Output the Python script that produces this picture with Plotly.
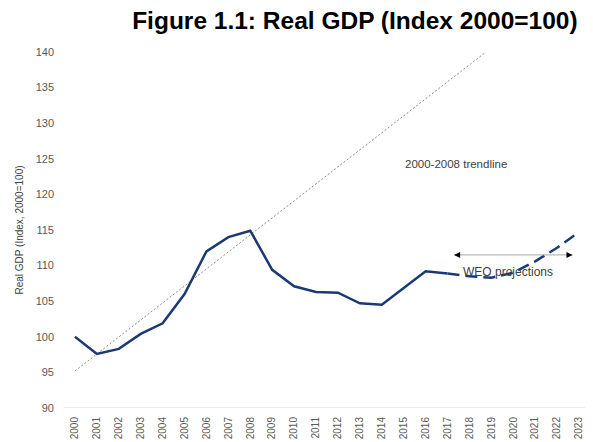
import plotly.graph_objects as go

years_actual = list(range(2000, 2018))
gdp_actual = [100.0, 97.6, 98.3, 100.4, 101.9, 106.0, 112.0, 114.0, 114.9, 109.4,
              107.1, 106.3, 106.2, 104.7, 104.5, 106.8, 109.2, 108.9]
years_proj = list(range(2017, 2024))
gdp_proj = [108.9, 108.5, 108.3, 109.0, 110.6, 112.5, 114.7]
trend_years = [2000, 2018.75]
trend_values = [95.2, 140.0]
tick_years = list(range(2000, 2024))
tick_labels = [str(y) for y in tick_years]
arrow_span = [2017.3, 2022.7]
arrow_level = 111.5

navy = "#1b3a73"
font_family = "Arial, Liberation Sans, sans-serif"

fig = go.Figure()
fig.add_trace(go.Scatter(x=trend_years, y=trend_values, mode="lines",
                         line=dict(color="#8c8c8c", width=1, dash="2px,2px"), showlegend=False))
fig.add_trace(go.Scatter(x=years_actual, y=gdp_actual, mode="lines",
                         line=dict(color=navy, width=2.5), showlegend=False))
fig.add_trace(go.Scatter(x=years_proj, y=gdp_proj, mode="lines",
                         line=dict(color=navy, width=2.5, dash="12px,6px"), showlegend=False))

# double-headed arrow: gray line with black heads
fig.add_shape(type="line", xref="x", yref="y", x0=arrow_span[0], x1=arrow_span[1],
              y0=arrow_level, y1=arrow_level, line=dict(color="#a6a6a6", width=1))
fig.add_annotation(x=arrow_span[0], y=arrow_level, xref="x", yref="y", axref="pixel", ayref="pixel",
                   ax=6, ay=0, text="", showarrow=True, arrowhead=2, arrowsize=1.2,
                   arrowwidth=1, arrowcolor="black", standoff=0)
fig.add_annotation(x=arrow_span[1], y=arrow_level, xref="x", yref="y", axref="pixel", ayref="pixel",
                   ax=-6, ay=0, text="", showarrow=True, arrowhead=2, arrowsize=1.2,
                   arrowwidth=1, arrowcolor="black", standoff=0)
fig.add_annotation(x=2019.75, y=109.1, xref="x", yref="y", text="WEO projections",
                   showarrow=False, font=dict(family=font_family, size=12, color="#404040"))
fig.add_annotation(x=2017.4, y=124.3, xref="x", yref="y", text="2000-2008 trendline",
                   showarrow=False, font=dict(family=font_family, size=11.5, color="#404040"))

fig.update_layout(
    width=585, height=434,
    margin=dict(l=56, r=3, t=44, b=32),
    paper_bgcolor="white", plot_bgcolor="white",
    title=dict(text="<b>Figure 1.1: Real GDP (Index 2000=100)</b>", x=0.593, xanchor="center",
               y=0.972, yanchor="middle",
               font=dict(family=font_family, size=24.5, color="black")),
    font=dict(family=font_family, size=10, color="#595959"),
)
fig.update_xaxes(range=[1999.5, 2023.5], tickmode="array", tickvals=tick_years,
                 ticktext=tick_labels, tickangle=-90, showgrid=False, zeroline=False,
                 showline=False, ticks="", ticklabelstandoff=6,
                 tickfont=dict(size=10, color="#595959"))
fig.update_yaxes(range=[90, 140], tickvals=list(range(90, 141, 5)), showgrid=False,
                 zeroline=False, showline=False, ticks="", ticklabelstandoff=9,
                 tickfont=dict(size=11, color="#595959"),
                 title=dict(text="Real GDP (Index, 2000=100)", font=dict(size=10, color="#404040"),
                            standoff=10))
fig.add_shape(type="line", xref="paper", yref="y", x0=0, x1=1, y0=90, y1=90,
              line=dict(color="#d9d9d9", width=1), layer="below")

fig.write_html("out.html")
